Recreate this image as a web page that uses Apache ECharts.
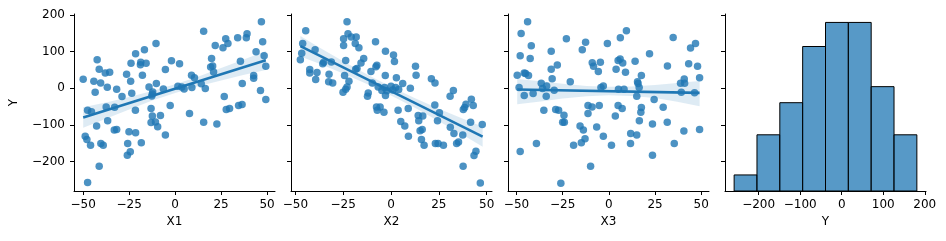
<!DOCTYPE html>
<html>
<head>
<meta charset="utf-8">
<script src="https://cdn.jsdelivr.net/npm/echarts@6/dist/echarts.min.js"></script>
<style>
html,body{margin:0;padding:0;background:#fff;}
#chart{width:946px;height:241px;}
</style>
</head>
<body>
<div id="chart"></div>
<script>
// ---------- data ----------
const panelNames = ['X1', 'X2', 'X3'];
const xTicks = [-50, -25, 0, 25, 50];
const yTicks = [-200, -100, 0, 100, 200];
const histTicks = [-200, -100, 0, 100, 200];

// Y vs X1
const ptsX1 = [
[-50,24.5],[-44.2,19],[-43.5,-11],[-42.4,78],[-41.3,52],[-40.5,14.5],[-38,42],[-35.6,43.6],[-36.9,2.7],[-31.8,-2.7],
[-28.9,-22.7],[-26.4,38],[-24.2,19],[-24,68],[-23.6,-13.6],[-21.5,94.5],[-16.7,105],[-18.9,64.5],[-18.7,71],[-15.8,68],
[-17.8,35.5],[-10.4,122],[-10.2,12.7],[-14.2,3.6],[-12.2,-10],[-12.7,-21],[-5.3,51],[-6.4,-1.8],[-2,75.5],[2.4,67],
[-2.7,-47],[1.5,5.5],[4.9,-1.8],[3.6,3.6],[9.1,1.8],[8.9,35.5],[10.5,29],[7.8,-69],[14.2,12],[16.4,-1],
[15.5,-93],[15.5,156],[22.7,-98],[19.8,81],[20.4,61],[19.3,58],[20.9,44.5],[21.8,117],[26,111],[27.5,135],
[28.7,122],[26.7,-22.7],[27.8,-58],[29.6,-55.5],[34,138],[39.1,149],[38.7,138],[35.5,73.6],[34.5,-47],[36.4,-44.5],
[36.5,12.7],[42.7,34.5],[42.7,27],[44,100],[46.9,182],[47.6,127],[48.4,89],[46.4,-6.4],[49.3,-31],[49.3,60],
[-47.6,-60],[-45.5,-64.5],[-48.9,-131],[-48,-140],[-46,-156],[-42.7,-103.6],[-40.4,-151],[-39.1,-156],[-41.3,-213],[-47.6,-258],
[-37.5,-51],[-36.7,-89],[-32.9,-52],[-33.1,-114.5],[-31.8,-112.7],[-25.1,-119],[-21.6,-60],[-21.5,-122],[-25.8,-151],[-26,-183],
[-24.4,-174],[-18.4,-149],[-13.1,-55.5],[-12.4,-76],[-13.1,-94],[-10.7,-92],[-9.5,-105.5],[-8,-74.5],[-5.3,-128],[-12.4,-16]
];
// Y vs X2
const ptsX2 = [
[-47.4,78],[-46.7,96],[-46.2,122],[-44.6,157],[-42.5,51],[-42.5,42],[-39.7,105],[-38.7,42.7],[-39.4,23.6],[-35.7,67],
[-35.2,71],[-31.2,72],[-32.4,38],[-32.6,18],[-30.5,14.5],[-24.8,135],[-24.8,117],[-23,182],[-22.5,149],[-20.8,140],
[-18.2,140],[-18.7,122],[-16.8,111],[-23.7,76],[-24.3,34.5],[-22,19],[-14.3,81],[-15.7,69],[-18.5,52],[-23,3.6],
[-23.7,-2.7],[-25.1,-11],[-8.1,127],[-7.4,63],[-7.9,59],[-10.5,46],[-2.9,101],[1.3,91],[1.8,73],[-3,34.5],
[-9.8,14.5],[-6.7,3.6],[-3.4,1.8],[-2.2,-7],[-2.9,-20],[-11.9,-12.7],[-12.3,-22],[0,5.5],[2.4,1.8],[2.8,29],
[4,-3.6],[6.1,12.7],[10.1,0],[12.8,60],[13.1,35.5],[-7.6,-51],[-5.7,-51],[-7.2,-60],[-3.7,-65.5],[3.7,-60],
[9,-55.5],[5.1,-91],[7.2,-103.6],[9.1,-131],[14.2,-74.5],[16.6,-76],[14.5,-89],[16.3,-112.7],[15.2,-116],[15.9,-140],
[17.3,-156],[21.1,26],[23,14.5],[22.9,-46],[25.3,-67],[24.3,-89],[23.2,-151],[24.6,-151],[27.4,-156],[30.9,-22],
[32.6,-6.4],[31,-107],[32.9,-123.6],[34.3,-151],[35.3,-147],[37.5,-128],[37.8,-58],[38.5,-52.7],[39.2,-43.6],[42,-30],
[43,-47],[41.6,-93],[37.7,-213],[43.4,-183.6],[44.4,-172],[47.7,-99],[46.7,-259],[0.9,-5],[-4.8,-6],[-17.8,54]
];
// Y vs X3
const ptsX3 = [
[-44,182],[-47.5,150],[-42,116],[-48,89],[-42.6,81],[-49.6,35.5],[-45.8,42],[-45.1,40],[-43.5,34.5],[-48.6,1.8],
[-45.8,-20],[-41,-14.5],[-36.6,13.6],[-35.9,-1],[-33.7,6.4],[-33.9,-22],[-31.2,101],[-31.2,52],[-30.7,26],[-27.9,63.6],
[-29.6,-5.5],[-35.2,-60],[-28.8,-58],[-27.2,-60],[-24.3,-73.6],[-25,-93],[-24.1,-93],[-39.2,-151],[-48,-172.7],[-26,-260],
[-23,135],[-20.9,18],[-19.1,-156],[-15.6,-103.6],[-13.8,-114.5],[-12.9,-138],[-14.9,-149],[-14.4,105],[-12.6,126],[-11.3,-47],
[-11.3,-69],[-9.1,-51],[-9.9,-213],[-9,70],[-8.3,60],[-5.7,46],[-4.6,71],[-6.6,-106],[-5.2,-47],[-4.3,1.8],
[-3,6.4],[-3,-131],[-0.8,122],[1.4,-156],[3.5,-76],[3.9,52],[5,76],[6.1,80],[7.5,69],[9,44],
[5,-47],[7.2,-55.5],[5.2,-2.7],[8.2,-2.7],[6.2,138],[9.5,157],[14.2,73.6],[11.8,-123.6],[11.7,-151],[15.1,-128],
[15.5,18],[15.8,12.7],[16.4,1.8],[15.1,-22],[17.6,34.5],[17.6,-52.7],[17.3,-65.5],[16.5,-89],[22,94.5],[24.5,-31],
[23.6,-98],[23.6,-183],[29.4,-52],[31.7,61],[31.6,-93],[34.8,139],[35.4,-151],[38.8,13.6],[39.2,-11],[40.8,25.5],
[41,13.6],[40.6,-117],[43.2,67],[44.2,110],[46.9,122],[46.4,-12],[48,60],[49.1,29],[49.1,-112.7]
];

// regression lines (ends) and confidence bands
const fitX1 = [[-50,-80],[49.3,76.3]];
const bandX1x  = [-50,-37,-25,-12,0,12,25,37,49.3];
const bandX1lo = [-108,-82,-58,-33,-13,5,21,36,50];
const bandX1hi = [-52,-38,-24,-7,11,31,55,78,102];

const fitX2 = [[-47.4,115],[47.9,-132.5]];
const bandX2x  = [-47.4,-37,-25,-12,0,12,25,37,47.9];
const bandX2lo = [87,66,40,10,-20,-52,-90,-126,-160];
const bandX2hi = [143,110,74,36,4,-26,-56,-82,-105];

const fitX3 = [[-49.6,-3.6],[49.1,-12.7]];
const bandX3x  = [-49.6,-37,-25,-12,0,12,25,37,49.1];
const bandX3lo = [-44,-36,-28,-22,-19,-21,-27,-37,-49];
const bandX3hi = [25,19,12,6,4,5,9,14,20];

// histogram of Y
const histEdges = [-259,-204,-149,-94,-39,16,71,126,181];
const histCounts = [2,7,11,18,21,21,13,7];

// axis ranges
const xRanges = [[-55,54.3],[-52.3,52.8],[-54.6,54.2]];
const yRange = [-281,203];
const histXRange = [-281,203];
const countMax = 22.05;

// ---------- chart ----------
const FONT = 'DejaVu Sans';
const BLUE = '#1f77b4';
const fmt = v => String(v).replace('-', '\u2212');
const panelLeft = [74, 291, 508, 725];
const PW = 201, PT = 14, PH = 177;

const grids = panelLeft.map(l => ({left: l, top: PT, width: PW, height: PH}));

function baseAxis(extra) {
  return Object.assign({
    type: 'value',
    splitLine: {show: false},
    axisLine: {show: true, onZero: false, lineStyle: {color: '#000', width: 1}},
    axisTick: {show: true, length: 4, lineStyle: {color: '#000', width: 1}},
    axisLabel: {color: '#000', fontFamily: FONT, fontSize: 12, formatter: fmt},
    nameTextStyle: {color: '#000', fontFamily: FONT, fontSize: 12}
  }, extra);
}

const xAxes = [];
const yAxes = [];
for (let i = 0; i < 3; i++) {
  xAxes.push(baseAxis({
    gridIndex: i, min: xRanges[i][0], max: xRanges[i][1],
    name: panelNames[i], nameLocation: 'middle', nameGap: 24,
    axisTick: {show: true, length: 4, lineStyle: {color: '#000', width: 1}, customValues: xTicks},
    axisLabel: {color: '#000', fontFamily: FONT, fontSize: 12, formatter: fmt, customValues: xTicks, margin: 8}
  }));
  yAxes.push(baseAxis({
    gridIndex: i, min: yRange[0], max: yRange[1],
    name: i === 0 ? 'Y' : '', nameLocation: 'middle', nameGap: 54,
    axisTick: {show: true, length: 4, lineStyle: {color: '#000', width: 1}, customValues: yTicks},
    axisLabel: {show: i === 0, color: '#000', fontFamily: FONT, fontSize: 12, formatter: fmt, customValues: yTicks, margin: 9}
  }));
}
// histogram panel
xAxes.push(baseAxis({
  gridIndex: 3, min: histXRange[0], max: histXRange[1],
  name: 'Y', nameLocation: 'middle', nameGap: 24,
  axisTick: {show: true, length: 4, lineStyle: {color: '#000', width: 1}, customValues: histTicks},
  axisLabel: {color: '#000', fontFamily: FONT, fontSize: 12, formatter: fmt, customValues: histTicks, margin: 8}
}));
yAxes.push(baseAxis({
  gridIndex: 3, min: yRange[0], max: yRange[1],
  axisTick: {show: true, length: 4, lineStyle: {color: '#000', width: 1}, customValues: yTicks},
  axisLabel: {show: false}
}));
yAxes.push({
  type: 'value', gridIndex: 3, min: 0, max: countMax, show: false
});

const pts = [ptsX1, ptsX2, ptsX3];
const fits = [fitX1, fitX2, fitX3];
const bands = [[bandX1x, bandX1lo, bandX1hi],[bandX2x, bandX2lo, bandX2hi],[bandX3x, bandX3lo, bandX3hi]];

const series = [];
for (let i = 0; i < 3; i++) {
  series.push({
    type: 'scatter', xAxisIndex: i, yAxisIndex: i, data: pts[i],
    symbolSize: 7.5, z: 2, silent: true,
    itemStyle: {color: BLUE, opacity: 0.8}
  });
  const b = bands[i];
  series.push({
    type: 'custom', xAxisIndex: i, yAxisIndex: i, z: 3, silent: true,
    data: [[b[0][0], b[1][0]]],
    renderItem: function (params, api) {
      const up = b[0].map((x, k) => api.coord([x, b[2][k]]));
      const lo = b[0].map((x, k) => api.coord([x, b[1][k]])).reverse();
      return {type: 'polygon', shape: {points: up.concat(lo)},
              style: {fill: 'rgba(31,119,180,0.15)', stroke: 'none'}};
    }
  });
  series.push({
    type: 'line', xAxisIndex: i, yAxisIndex: i, data: fits[i], z: 4, silent: true,
    symbol: 'none', lineStyle: {color: BLUE, width: 2.6}
  });
}
series.push({
  type: 'custom', xAxisIndex: 3, yAxisIndex: 4, silent: true,
  data: histCounts.map((c, k) => [histEdges[k], histEdges[k + 1], c]),
  encode: {x: [0, 1], y: 2},
  renderItem: function (params, api) {
    const p0 = api.coord([api.value(0), api.value(2)]);
    const p1 = api.coord([api.value(1), 0]);
    return {type: 'rect',
      shape: {x: p0[0], y: p0[1], width: p1[0] - p0[0], height: p1[1] - p0[1]},
      style: {fill: 'rgba(31,119,180,0.75)', stroke: '#000', lineWidth: 1}};
  }
});

const chart = echarts.init(document.getElementById('chart'), null, {renderer: 'canvas'});
chart.setOption({
  animation: false,
  backgroundColor: '#fff',
  grid: grids,
  xAxis: xAxes,
  yAxis: yAxes,
  series: series
});
</script>
</body>
</html>
